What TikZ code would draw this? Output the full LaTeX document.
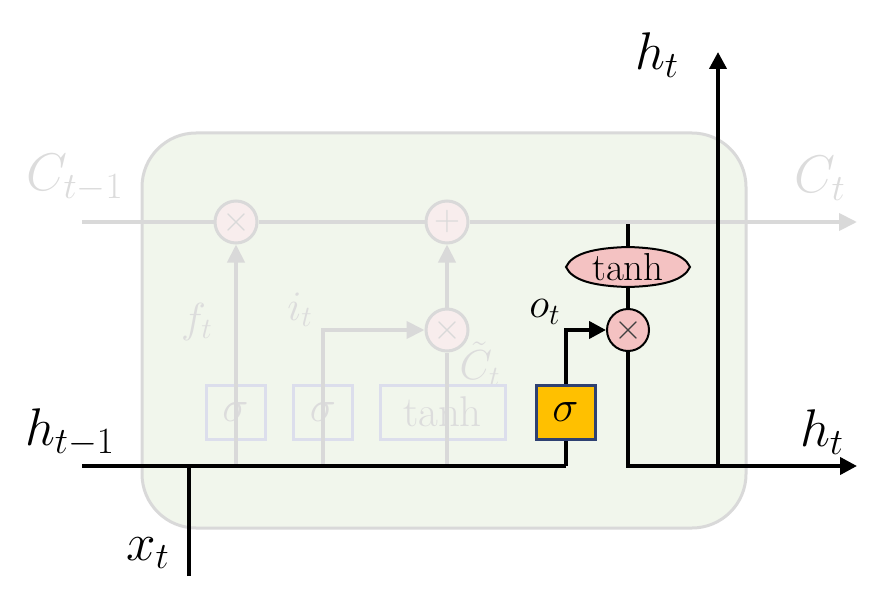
\documentclass[tikz,border=0pt]{standalone}
\usepackage{fix-cm}
\usetikzlibrary{arrows.meta,calc}
\definecolor{bgG}{HTML}{F1F6EC}
\definecolor{fadeL}{HTML}{D9D9D9}
\definecolor{fadeT}{HTML}{DCDCDC}
\definecolor{fadeB}{HTML}{DCDEEC}
\definecolor{fadeP}{HTML}{F8EDED}
\definecolor{pinkC}{HTML}{F4C2C2}
\definecolor{orangeS}{HTML}{FFC000}
\definecolor{blueB}{HTML}{2F4172}
\begin{document}
\begin{tikzpicture}[x=0.5pt,y=-0.5pt,
 gline/.style={draw=fadeL,line width=2pt},
 garrow/.style={gline,-{Triangle[length=9pt,width=8.5pt]}},
 bline/.style={draw=black,line width=2pt},
 barrow/.style={bline,-{Triangle[length=8.5pt,width=8.5pt]}},
 gcirc/.style={circle,draw=fadeL,line width=1.5pt,fill=fadeP,minimum size=21pt,inner sep=0pt,text=fadeL,font=\fontsize{18}{20}\selectfont},
 bcirc/.style={circle,draw=black,line width=1pt,fill=pinkC,minimum size=21pt,inner sep=0pt,text=black!75,font=\fontsize{18}{20}\selectfont},
 fbox/.style={draw=fadeB,line width=1.5pt,minimum height=27pt,inner sep=0pt,text=fadeT},
 obox/.style={draw=blueB,line width=1.5pt,fill=orangeS,minimum width=29.5pt,minimum height=27pt,inner sep=0pt,font=\fontsize{22}{26}\selectfont},
 biglab/.style={font=\fontsize{26.5}{30}\selectfont,inner sep=0pt},
 midlab/.style={font=\fontsize{21}{24}\selectfont,inner sep=0pt},
]
\useasboundingbox (0,0) rectangle (881,609);
% cell background
\path[fill=bgG,draw=fadeL,line width=1.5pt,rounded corners=27pt] (142,133) rectangle (746,528);

% faded labels
\node[biglab,text=fadeT] (lc0) at (75,178) {$C_{t-1}$};
\node[biglab,text=fadeT] (lc1) at (820,178) {$C_t$};
\node[midlab,text=fadeT] (lf) at (197,322) {$f_t$};
\node[midlab,text=fadeT] (li) at (300,310) {$i_t$};
\node[midlab,text=fadeT] (lct) at (480,364) {$\tilde{C}_t$};

% faded gates
\node[fbox,minimum width=29.5pt,font=\fontsize{22}{26}\selectfont] (s1) at (235.5,412) {$\sigma$};
\node[fbox,minimum width=29.5pt,font=\fontsize{22}{26}\selectfont] (s2) at (323,412) {$\sigma$};
\node[fbox,minimum width=62.5pt,font=\fontsize{21.5}{24}\selectfont] (tb) at (442.5,412) {tanh};

% faded ops
\node[gcirc] (m1) at (236,222) {$\times$};
\node[gcirc] (add) at (447,222) {$+$};
\node[gcirc] (m2) at (447,330) {$\times$};

\coordinate (cin) at (82,222);
\coordinate (cout) at (857,222);
\coordinate (f0) at (236,466);
\coordinate (i0) at (323,466);
\coordinate (g0) at (447,466);

\draw[gline] (cin) -- (m1);
\draw[gline] (m1) -- (add);
\draw[garrow] (add) -- (cout);
\draw[garrow] (f0) -- (m1);
\draw[garrow] (i0) |- (m2);
\draw[gline] (g0) -- (m2);
\draw[garrow] (m2) -- (add);

% active output gate
\node[bcirc] (m3) at (628,330) {$\times$};
\path[draw=black,line width=1pt,fill=pinkC]
  (566,267) .. controls (572,254) and (592,248) .. (628,247)
  .. controls (664,248) and (684,254) .. (690,267)
  .. controls (684,280) and (664,286) .. (628,287)
  .. controls (592,286) and (572,280) .. (566,267) -- cycle;
\node[inner sep=0pt,minimum width=62pt,minimum height=20pt,font=\fontsize{19.5}{22}\selectfont] (th) at (628,267) {tanh};

\coordinate (hin) at (82,466);
\coordinate (hc) at (566,466);
\coordinate (xin) at (189,576);
\coordinate (xj) at (189,466);
\coordinate (cd) at (628,224);
\coordinate (hb) at (628,466);
\coordinate (hout) at (857,466);
\coordinate (vb) at (718,466);
\coordinate (vt) at (718,52);

\draw[bline] (hin) -- (hc);
\draw[barrow] (hc) |- (m3);
\draw[bline] (xin) -- (xj);
\draw[bline] (cd) -- (th);
\draw[bline] (th) -- (m3);
\draw[barrow,line cap=butt] (m3) |- (hout);
\draw[barrow] (vb) -- (vt);

\node[obox] (so) at (565.5,412) {$\sigma$};

% labels
\node[biglab] (lh0) at (70,433) {$h_{t-1}$};
\node[biglab] (lx) at (148,553) {$x_t$};
\node[biglab] (lht) at (657,55) {$h_t$};
\node[biglab] (lhr) at (822,432) {$h_t$};
\node[midlab] (lo) at (545,312) {$o_t$};
\end{tikzpicture}
\end{document}
